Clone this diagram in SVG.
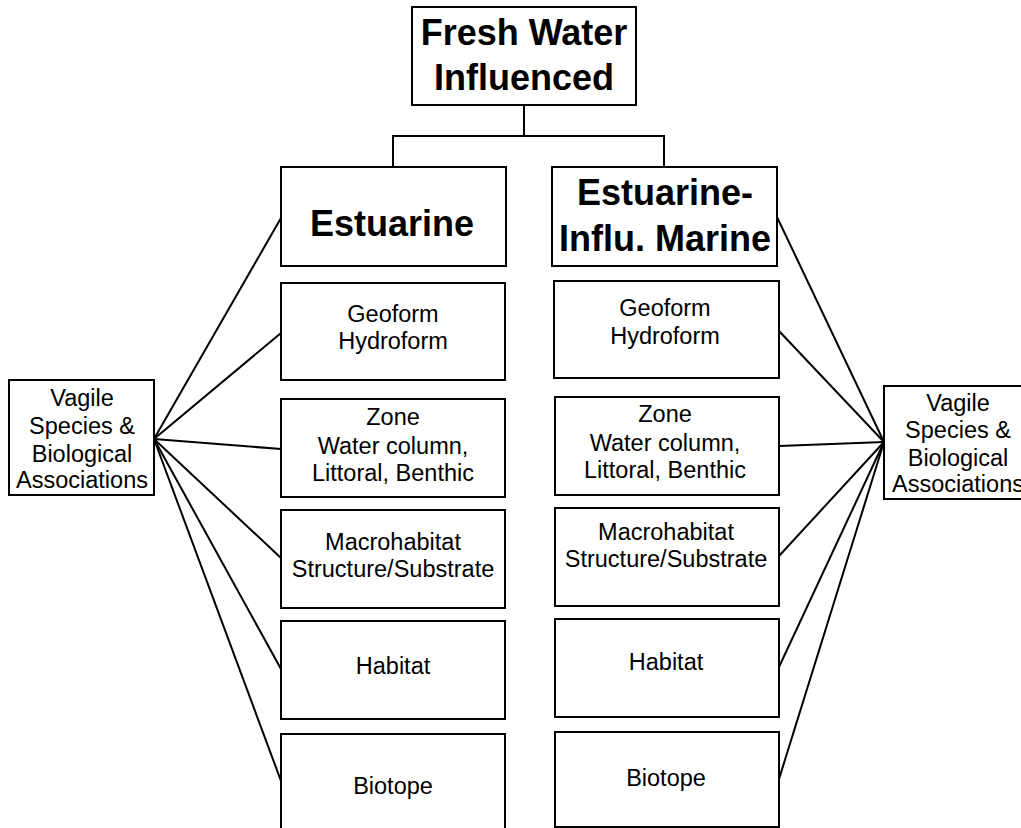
<svg xmlns="http://www.w3.org/2000/svg" width="1021" height="828" viewBox="0 0 1021 828">
<style>
rect{fill:#fff;stroke:#000;stroke-width:2}
.c line,.c polyline{stroke:#000;stroke-width:2;fill:none}
text{font-family:"Liberation Sans",Arial,sans-serif;fill:#000;text-anchor:middle}
.h{font-size:36px;font-weight:bold}
.n{font-size:23.5px}
</style>
<rect x="0" y="0" width="1021" height="828" style="stroke:none"/>
<g class="c" id="connectors">
<line x1="524" y1="105" x2="524" y2="136"/>
<polyline points="393,167 393,136 664,136 664,167"/>
<line x1="154" y1="439" x2="281" y2="218"/>
<line x1="154" y1="439" x2="281" y2="333"/>
<line x1="154" y1="439" x2="281" y2="449"/>
<line x1="154" y1="439" x2="281" y2="558"/>
<line x1="154" y1="439" x2="281" y2="669"/>
<line x1="154" y1="439" x2="281" y2="781"/>
<line x1="884" y1="442" x2="777" y2="217"/>
<line x1="884" y1="442" x2="779" y2="331"/>
<line x1="884" y1="442" x2="779" y2="446"/>
<line x1="884" y1="442" x2="779" y2="556"/>
<line x1="884" y1="442" x2="779" y2="667"/>
<line x1="884" y1="442" x2="779" y2="779"/>
</g>
<g id="fresh-water">
<rect x="412" y="7" width="224" height="98"/>
<text class="h" x="524" y="45">Fresh Water</text>
<text class="h" x="524" y="90">Influenced</text>
</g>
<g id="estuarine">
<rect x="281" y="167" width="225" height="99"/>
<text class="h" x="392" y="236">Estuarine</text>
</g>
<g id="estuarine-marine">
<rect x="552" y="167" width="225" height="99"/>
<text class="h" x="665" y="205">Estuarine-</text>
<text class="h" x="665" y="251">Influ. Marine</text>
</g>
<g id="geo-left">
<rect x="281" y="283" width="224" height="97"/>
<text class="n" x="393" y="322">Geoform</text>
<text class="n" x="393" y="349">Hydroform</text>
</g>
<g id="zone-left">
<rect x="281" y="399" width="224" height="98"/>
<text class="n" x="393" y="425">Zone</text>
<text class="n" x="393" y="454">Water column,</text>
<text class="n" x="393" y="481">Littoral, Benthic</text>
</g>
<g id="macro-left">
<rect x="281" y="510" width="224" height="98"/>
<text class="n" x="393" y="550">Macrohabitat</text>
<text class="n" x="393" y="577">Structure/Substrate</text>
</g>
<g id="habitat-left">
<rect x="281" y="621" width="224" height="98"/>
<text class="n" x="393" y="674">Habitat</text>
</g>
<g id="biotope-left">
<rect x="281" y="734" width="224" height="100"/>
<text class="n" x="393" y="794">Biotope</text>
</g>
<g id="geo-right">
<rect x="554" y="281" width="225" height="97"/>
<text class="n" x="665" y="316">Geoform</text>
<text class="n" x="665" y="344">Hydroform</text>
</g>
<g id="zone-right">
<rect x="555" y="397" width="224" height="98"/>
<text class="n" x="665" y="422">Zone</text>
<text class="n" x="665" y="451">Water column,</text>
<text class="n" x="665" y="478">Littoral, Benthic</text>
</g>
<g id="macro-right">
<rect x="555" y="508" width="224" height="98"/>
<text class="n" x="666" y="540">Macrohabitat</text>
<text class="n" x="666" y="567">Structure/Substrate</text>
</g>
<g id="habitat-right">
<rect x="555" y="619" width="224" height="98"/>
<text class="n" x="666" y="670">Habitat</text>
</g>
<g id="biotope-right">
<rect x="555" y="732" width="224" height="95"/>
<text class="n" x="666" y="786">Biotope</text>
</g>
<g id="vagile-left">
<rect x="9" y="380" width="145" height="115"/>
<text class="n" x="82" y="406">Vagile</text>
<text class="n" x="82" y="434">Species &amp;</text>
<text class="n" x="82" y="462">Biological</text>
<text class="n" x="82" y="488">Associations</text>
</g>
<g id="vagile-right">
<rect x="884" y="386" width="145" height="113"/>
<text class="n" x="958" y="411">Vagile</text>
<text class="n" x="958" y="438">Species &amp;</text>
<text class="n" x="958" y="466">Biological</text>
<text class="n" x="958" y="492">Associations</text>
</g>
</svg>
